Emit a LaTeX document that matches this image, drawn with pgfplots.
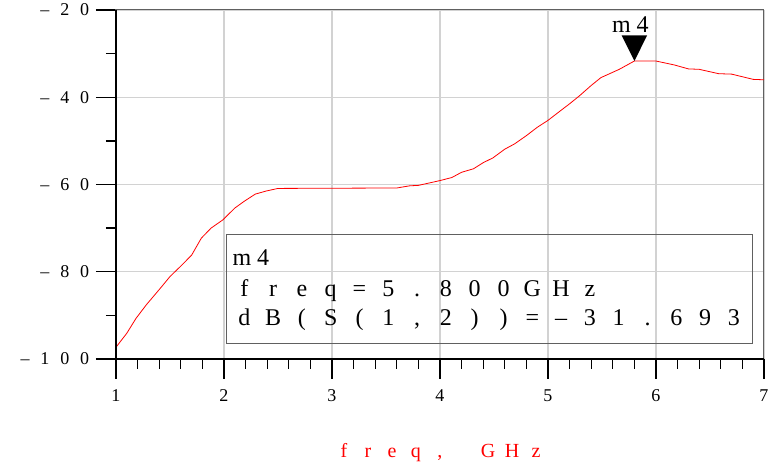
\documentclass[border=0pt]{standalone}
\usepackage{fontspec}
\setmainfont{Liberation Serif}
\usepackage{pgfplots}
\pgfplotsset{compat=1.18}

% fixed-pitch text: every character sits centred in a cell of equal width
\newcommand\cells[2][1.2em]{\def\cellw{#1}\cellsi#2\relax}
\def\cellsi#1{\ifx#1\relax\else\makebox[\cellw]{#1}\expandafter\cellsi\fi}

% marker: filled triangle pointing down, tip on the data point
\pgfdeclareplotmark{mkdown}{%
  \pgfpathmoveto{\pgfpointorigin}%
  \pgfpathlineto{\pgfpoint{-12.8pt}{25.7pt}}%
  \pgfpathlineto{\pgfpoint{12.8pt}{25.7pt}}%
  \pgfpathclose\pgfusepathqfill}

\begin{document}
\begin{tikzpicture}
\useasboundingbox (-116pt,-106pt) rectangle (661pt,359pt);
\begin{axis}[
  at={(0,0)}, anchor=south west,
  scale only axis, width=648pt, height=349pt,
  xmin=1, xmax=7, ymin=-100, ymax=-20,
  xtick={1,2,3,4,5,6,7},
  xticklabels={1,2,3,4,5,6,7},
  ytick={-100,-80,-60,-40,-20},
  yticklabels={\cells[1.1em]{\textendash100},\cells[1.1em]{\textendash80},\cells[1.1em]{\textendash60},\cells[1.1em]{\textendash40},\cells[1.1em]{\textendash20}},
  minor x tick num=4, minor y tick num=1,
  xtick pos=left, ytick pos=left,
  tick align=outside,
  major tick length=20pt, minor tick length=10pt,
  xtick style={black, line width=1.3pt},
  ytick style={black, line width=1.3pt},
  grid=major,
  major grid style={gray!35, line width=1.1pt},
  axis line style={gray!75!black, line width=1pt},
  every tick label/.append style={font=\fontsize{18}{18}\selectfont},
  xticklabel style={yshift=-7pt},
  yticklabel style={xshift=2pt},
  clip=false,
]
\addplot[red, line width=0.8pt] coordinates {
(1.0,-97.3) (1.1,-94.1) (1.185,-90.7) (1.28,-87.6) (1.41,-83.8)
(1.5,-81.1) (1.6,-78.7) (1.7,-76.2) (1.79,-72.3) (1.88,-70.0)
(1.99,-68.1) (2.1,-65.4) (2.19,-63.8) (2.29,-62.2) (2.39,-61.5)
(2.5,-60.9) (3.6,-60.8) (3.72,-60.3) (3.8,-60.2) (3.91,-59.6)
(4.0,-59.1) (4.11,-58.4) (4.2,-57.2) (4.31,-56.4) (4.4,-55.0)
(4.49,-53.9) (4.6,-51.9) (4.69,-50.7) (4.8,-48.8) (4.9,-46.9)
(5.0,-45.3) (5.11,-43.2) (5.2,-41.5) (5.29,-39.7) (5.4,-37.3)
(5.49,-35.5) (5.66,-33.6) (5.8,-31.693) (6.0,-31.7) (6.17,-32.6)
(6.3,-33.5) (6.4,-33.6) (6.58,-34.6) (6.7,-34.7) (6.9,-35.9)
(7.0,-36.0)
};
% marker m4
\addplot[black, only marks, mark=mkdown] coordinates {(5.8,-31.693)}
  node[pos=0, anchor=base, yshift=29pt, xshift=-4pt, font=\fontsize{24}{24}\selectfont] {m\hspace{6pt}4};

% left and bottom axis lines in black
\draw[black, line width=1.2pt] (rel axis cs:0,1) -- (rel axis cs:0,0) -- (rel axis cs:1,0);

% marker readout box
\draw[gray!75!black, line width=1pt] (rel axis cs:0.1713,0.043) rectangle (rel axis cs:0.9815,0.358);
\node[anchor=base west, inner sep=0pt, font=\fontsize{24}{24}\selectfont] at (rel axis cs:0.1795,0.2693) {m\hspace{6pt}4};
\node[anchor=base west, inner sep=0pt, font=\fontsize{24}{24}\selectfont] at (rel axis cs:0.1755,0.1777) {\cells{freq=5.800GHz}};
\node[anchor=base west, inner sep=0pt, font=\fontsize{24}{24}\selectfont] at (rel axis cs:0.1755,0.0974) {\cells{dB(S(1,2))=\textendash31.693}};

% axis title
\node[anchor=base, inner sep=0pt, text=red, font=\fontsize{20}{20}\selectfont] at ([yshift=-99pt]rel axis cs:0.5,0) {\cells{freq,~GHz}};
\end{axis}
\end{tikzpicture}
\end{document}
